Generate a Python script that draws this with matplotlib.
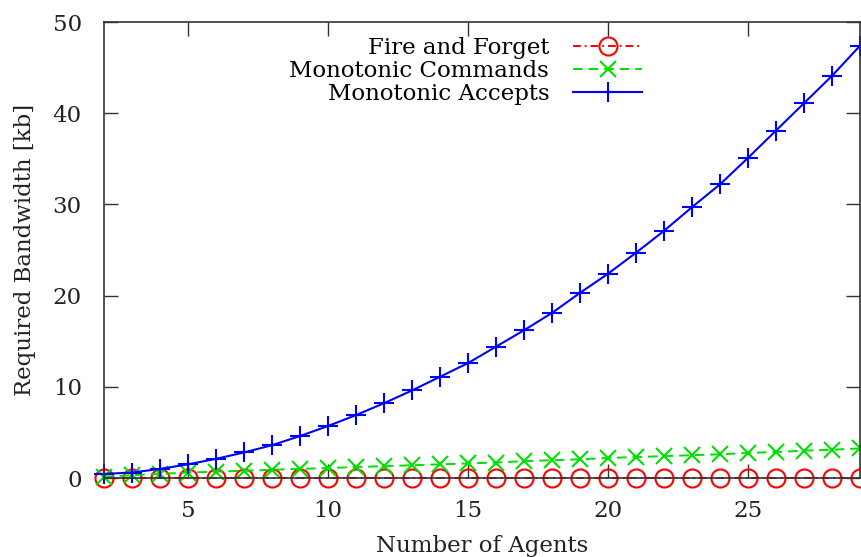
import numpy as np
import matplotlib
matplotlib.use("Agg")
from matplotlib import pyplot as plt

agents = list(range(2, 30))

fire_and_forget = [0.02, 0.02, 0.02, 0.02, 0.02, 0.02, 0.02, 0.02, 0.02, 0.02,
                   0.02, 0.02, 0.02, 0.02, 0.02, 0.02, 0.02, 0.02, 0.02, 0.02,
                   0.02, 0.02, 0.02, 0.02, 0.02, 0.02, 0.02, 0.02]
monotonic_commands = [0.15, 0.3, 0.45, 0.6, 0.7, 0.8, 0.9, 1.0, 1.1, 1.2,
                      1.3, 1.4, 1.5, 1.6, 1.7, 1.85, 1.95, 2.05, 2.2, 2.3,
                      2.4, 2.5, 2.6, 2.75, 2.85, 3.0, 3.1, 3.25]
monotonic_accepts = [0.45, 0.6, 1.0, 1.5, 2.1, 2.8, 3.6, 4.6, 5.7, 6.9,
                     8.2, 9.6, 11.1, 12.6, 14.4, 16.2, 18.1, 20.3, 22.4, 24.7,
                     27.1, 29.7, 32.2, 35.1, 38.1, 41.1, 44.1, 47.4]

plt.rcParams["font.family"] = "DejaVu Serif"
plt.rcParams["font.size"] = 16.5

fig = plt.figure(figsize=(8.62, 5.57), dpi=100)
ax = fig.add_axes([0.1206, 0.1418, 0.8771, 0.8187])

ax.plot(agents, fire_and_forget, color="#ff0000", linestyle=(0, (4, 2, 1, 2)), lw=1.4,
        marker="o", markersize=13, markerfacecolor="none", markeredgewidth=1.5,
        label="Fire and Forget", clip_on=False)
ax.plot(agents, monotonic_commands, color="#00e000", linestyle=(0, (5, 3)), lw=1.4,
        marker="x", markersize=11, markeredgewidth=1.5,
        label="Monotonic Commands", clip_on=False)
ax.plot(agents, monotonic_accepts, color="#0000ff", linestyle="-", lw=1.5,
        marker="+", markersize=14, markeredgewidth=1.5,
        label="Monotonic Accepts", clip_on=False)

ax.set_xlim(2, 29)
ax.set_ylim(0, 50)
ax.set_xticks([5, 10, 15, 20, 25])
ax.set_yticks([0, 10, 20, 30, 40, 50])
ax.tick_params(direction="in", length=10, width=1, top=True, right=True,
               colors="#333333", labelcolor="#222222", labelsize=16.5, pad=16)
for s in ax.spines.values():
    s.set_color("#333333")
    s.set_linewidth(1.2)

ax.set_xlabel("Number of Agents", color="#222222", labelpad=9)
ax.set_ylabel("Required Bandwidth [kb]", color="#222222", labelpad=12)

leg = ax.legend(loc="upper right", bbox_to_anchor=(0.7116, 0.967), frameon=False,
                markerfirst=False, borderpad=0, borderaxespad=0,
                handlelength=3.0, handletextpad=1.05, labelspacing=0.05)
for t in leg.get_texts():
    t.set_ha("right")

fig.savefig("out.png", dpi=100)
